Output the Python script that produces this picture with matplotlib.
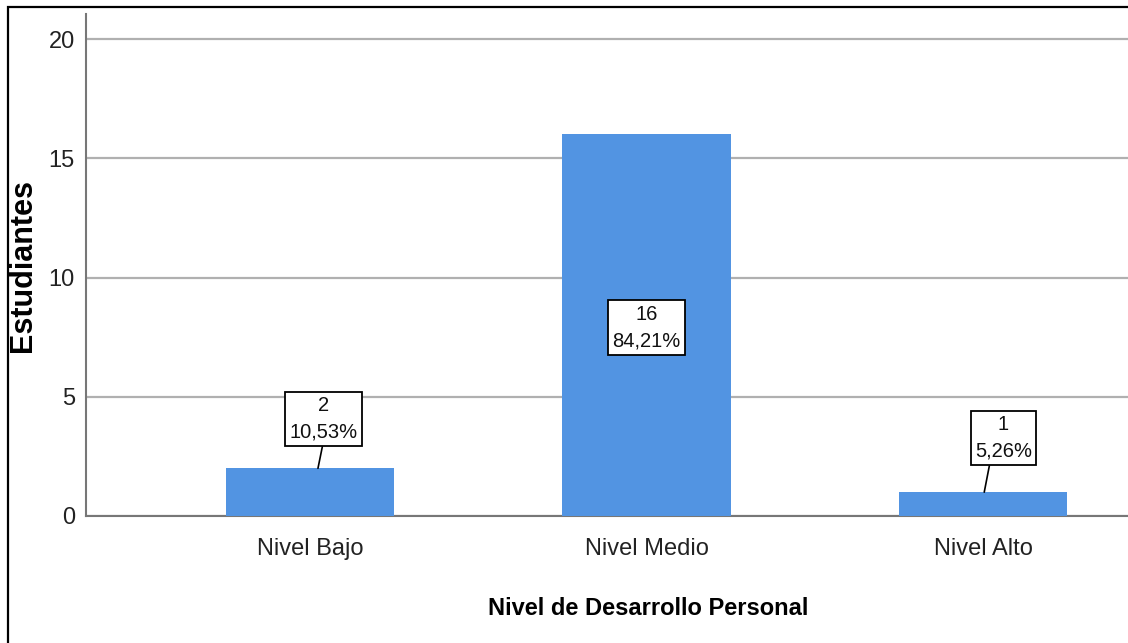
import matplotlib
matplotlib.use("Agg")
import matplotlib.pyplot as plt
from matplotlib.patches import Rectangle

# Datos del gráfico
categorias = ["Nivel Bajo", "Nivel Medio", "Nivel Alto"]
estudiantes = [2, 16, 1]
porcentajes = ["10,53%", "84,21%", "5,26%"]
yticks = [0, 5, 10, 15, 20]

fuente = "Liberation Sans"

fig = plt.figure(figsize=(11.28, 6.43), dpi=100)
ax = fig.add_axes([86 / 1128, 1 - 516 / 643, 1 - 86 / 1128, (516 - 14) / 643])

x = list(range(len(categorias)))
ax.bar(x, estudiantes, width=0.5, color="#5294e2", zorder=3)

ax.set_xlim(-0.665, 2.43)
ax.set_ylim(0, 21.05)
ax.set_yticks(yticks)
ax.set_yticklabels([str(v) for v in yticks], fontfamily=fuente, fontsize=17)
ax.set_xticks(x)
ax.set_xticklabels(categorias, fontfamily=fuente, fontsize=17)
ax.tick_params(axis="both", length=0, colors="#222222")
ax.tick_params(axis="y", pad=8)
ax.tick_params(axis="x", pad=16)

ax.yaxis.grid(True, color="#b0b0b0", linewidth=1.6, zorder=0)
ax.set_axisbelow(True)
for lado in ["top", "right"]:
    ax.spines[lado].set_visible(False)
for lado in ["left", "bottom"]:
    ax.spines[lado].set_color("#777777")
    ax.spines[lado].set_linewidth(1.5)

# Etiquetas de las barras: caja con valor y porcentaje
caja_dx = [0.04, 0.0, 0.06]     # desplazamiento horizontal de la caja
caja_y = [4.07, 7.9, 3.27]      # altura del centro de la caja
guia_dx = [0.024, None, 0.003]  # pie del trazo guía sobre la barra
guia_rel = [0.5, None, 0.27]    # punto de salida en el borde inferior de la caja
for i, (v, p) in enumerate(zip(estudiantes, porcentajes)):
    texto = f"{v}\n{p}"
    props = dict(boxstyle="square,pad=0.22", fc="white", ec="black", lw=1.3)
    comunes = dict(ha="center", va="center", fontfamily=fuente, fontsize=14.5,
                   linespacing=1.5, bbox=props, zorder=5, color="#111111")
    if guia_dx[i] is not None:
        ax.annotate(texto, xy=(i + guia_dx[i], v), xytext=(i + caja_dx[i], caja_y[i]),
                    arrowprops=dict(arrowstyle="-", color="black", lw=1.2,
                                    shrinkA=0, shrinkB=0,
                                    relpos=(guia_rel[i], 0.0)),
                    **comunes)
    else:
        ax.text(i + caja_dx[i], caja_y[i], texto, **comunes)

ax.set_ylabel("Estudiantes", fontfamily=fuente, fontweight="bold", fontsize=22)
ax.yaxis.set_label_coords(-(86 - 38) / 1042, (516 - 266) / 502)
ax.set_xlabel("Nivel de Desarrollo Personal", fontfamily=fuente,
              fontweight="bold", fontsize=17)
ax.xaxis.set_label_coords((648 - 86) / 1042, -(597 - 516) / 502)

# Marco exterior
fig.patches.append(Rectangle((8 / 1128, -0.01), 1.0, 1 - 7 / 643 + 0.01,
                             transform=fig.transFigure, fill=False,
                             ec="black", lw=1.6))

fig.savefig("out.png", dpi=100)
